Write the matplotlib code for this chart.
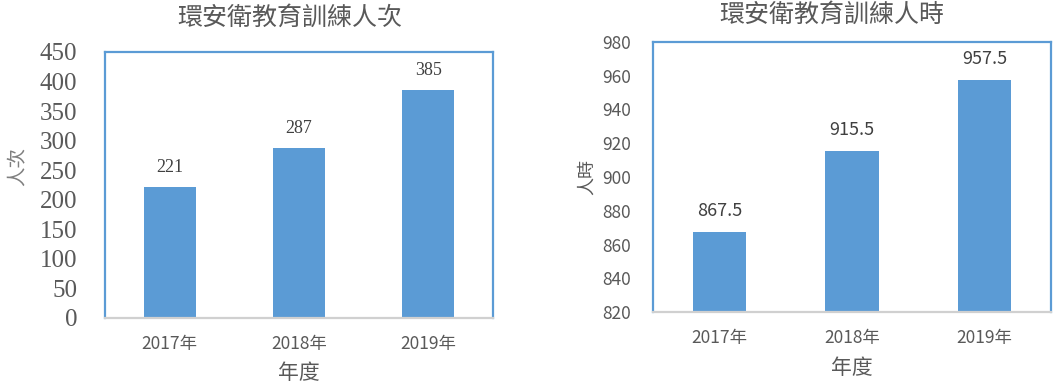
import matplotlib
matplotlib.use("Agg")
import matplotlib.pyplot as plt

plt.rcParams["font.family"] = ["Noto Sans CJK TC", "DejaVu Sans"]

YEARS = ["2017年", "2018年", "2019年"]
PEOPLE = [221, 287, 385]
HOURS = [867.5, 915.5, 957.5]
PEOPLE_TICKS = list(range(0, 451, 50))
HOURS_TICKS = list(range(820, 981, 20))

BAR_COLOR = "#5B9BD5"
FRAME_COLOR = "#5B9BD5"
TEXT_GRAY = "#595959"
LABEL_DARK = "#404040"

W, H = 1055, 388
fig = plt.figure(figsize=(W / 100, H / 100), dpi=100)


def px_axes(x0, y0, x1, y1):
    return fig.add_axes([x0 / W, (H - y1) / H, (x1 - x0) / W, (y1 - y0) / H])


def style(ax):
    for s in ("top", "left", "right"):
        ax.spines[s].set_color(FRAME_COLOR)
        ax.spines[s].set_linewidth(1.6)
    ax.spines["bottom"].set_color("#D0D0D0")
    ax.spines["bottom"].set_linewidth(1.6)
    ax.tick_params(length=0)
    ax.set_xlim(-0.5, 2.5)


# left chart: 人次
ax1 = px_axes(105, 52, 493, 318)
style(ax1)
x = range(len(YEARS))
ax1.bar(x, PEOPLE, width=0.4, color=BAR_COLOR)
ax1.set_ylim(0, 450)
ax1.set_yticks(PEOPLE_TICKS)
ax1.set_yticklabels([str(t) for t in PEOPLE_TICKS], family="Liberation Serif",
                    fontsize=18, color=TEXT_GRAY)
ax1.tick_params(axis="y", pad=20)
ax1.set_xticks(list(x))
ax1.set_xticklabels(YEARS, fontsize=12.5, color=TEXT_GRAY)
ax1.tick_params(axis="x", pad=12)
for i, v in enumerate(PEOPLE):
    ax1.annotate(str(v), (i, v), xytext=(0, 14.5), textcoords="offset points",
                 ha="center", va="center", family="Liberation Serif",
                 fontsize=13, color=LABEL_DARK)
fig.text(290 / W, 1 - 18 / H, "環安衛教育訓練人次", ha="center", va="center",
         fontsize=18, color=TEXT_GRAY)
fig.text(17 / W, 1 - 167 / H, "人次", rotation=90, ha="center", va="center",
         fontsize=14, color="#7F7F7F")
fig.text(299 / W, 1 - 373 / H, "年度", ha="center", va="center",
         fontsize=15, color=TEXT_GRAY)

# right chart: 人時
ax2 = px_axes(653, 42, 1051, 312)
style(ax2)
ax2.bar(x, HOURS, width=0.4, color=BAR_COLOR)
ax2.set_ylim(820, 980)
ax2.set_yticks(HOURS_TICKS)
ax2.set_yticklabels([str(t) for t in HOURS_TICKS], fontsize=12.5, color=TEXT_GRAY)
ax2.tick_params(axis="y", pad=16)
ax2.set_xticks(list(x))
ax2.set_xticklabels(YEARS, fontsize=12.5, color=TEXT_GRAY)
ax2.tick_params(axis="x", pad=12)
for i, v in enumerate(HOURS):
    ax2.annotate(f"{v:.1f}", (i, v), xytext=(0, 15), textcoords="offset points",
                 ha="center", va="center", fontsize=13, color=LABEL_DARK)
fig.text(832 / W, 1 - 15 / H, "環安衛教育訓練人時", ha="center", va="center",
         fontsize=18, color=TEXT_GRAY)
fig.text(587 / W, 1 - 177 / H, "人時", rotation=90, ha="center", va="center",
         fontsize=13, color=TEXT_GRAY)
fig.text(852 / W, 1 - 368 / H, "年度", ha="center", va="center",
         fontsize=15, color=TEXT_GRAY)

fig.savefig("out.png", dpi=100)
